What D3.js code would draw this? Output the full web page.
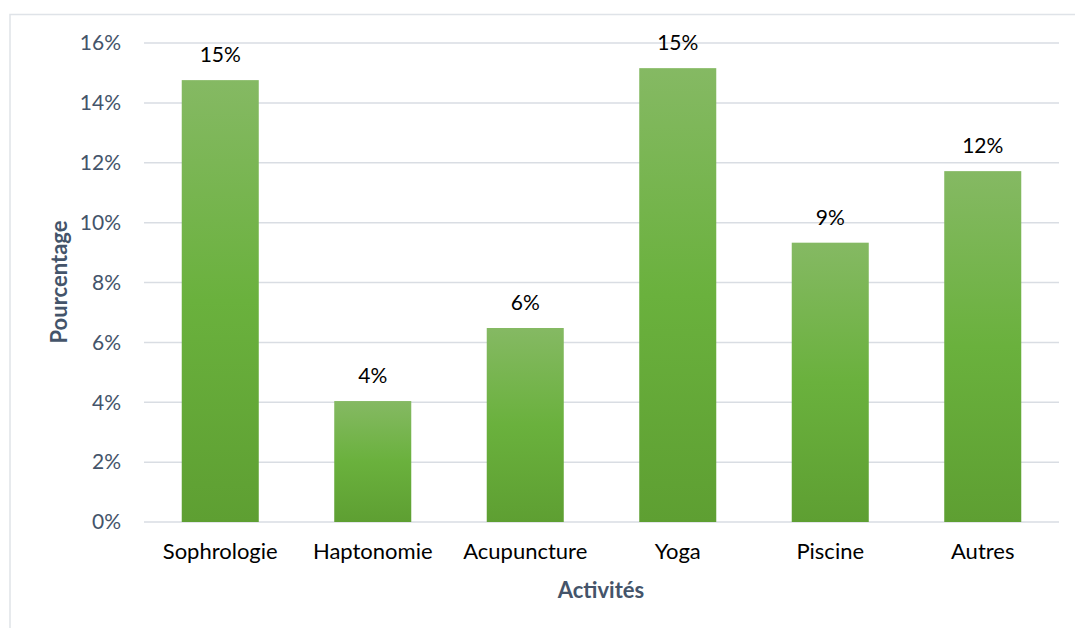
<!DOCTYPE html>
<html><head><meta charset="utf-8">
<script src="https://cdn.jsdelivr.net/npm/d3@7/dist/d3.min.js"></script>
<style>body{margin:0;background:#fff;} svg{display:block;}</style>
</head><body>
<svg id="c" width="1075" height="628"></svg>
<script>
const categories = ["Sophrologie","Haptonomie","Acupuncture","Yoga","Piscine","Autres"];
const values = [0.1476, 0.0404, 0.0648, 0.1516, 0.0933, 0.1172];
const labels = ["15%","4%","6%","15%","9%","12%"];
const yTicks = [0,0.02,0.04,0.06,0.08,0.10,0.12,0.14,0.16];

const svg = d3.select("#c");
const font = "Lato, 'Open Sans', sans-serif";
const L = 144, R = 1059, T = 43, B = 522;

svg.append("rect").attr("x",10).attr("y",14.5).attr("width",1100).attr("height",640)
  .attr("fill","#fff").attr("stroke","#dfe3e8").attr("stroke-width",1.5);

const defs = svg.append("defs");
const g = defs.append("linearGradient").attr("id","gr").attr("x1",0).attr("y1",0).attr("x2",0).attr("y2",1);
g.append("stop").attr("offset","0%").attr("stop-color","#85b963");
g.append("stop").attr("offset","50%").attr("stop-color","#6ab13d");
g.append("stop").attr("offset","100%").attr("stop-color","#5e9f32");

const x = d3.scaleBand().domain(categories).range([L,R]).paddingInner(0.495).paddingOuter(0.2475);
const y = d3.scaleLinear().domain([0,0.16]).range([B,T]);

svg.append("g").selectAll("line").data(yTicks).join("line")
  .attr("x1",L).attr("x2",R).attr("y1",d=>y(d)).attr("y2",d=>y(d))
  .attr("stroke","#d9dde3").attr("stroke-width",1.5);

svg.append("g").selectAll("text").data(yTicks).join("text")
  .attr("x",121).attr("y",d=>y(d)).attr("dy","0.35em").attr("text-anchor","end")
  .attr("font-family",font).attr("font-size",21).attr("fill","#44546a")
  .text(d=>d3.format(".0%")(d));

svg.append("g").selectAll("rect").data(values).join("rect")
  .attr("x",(d,i)=>x(categories[i])).attr("width",x.bandwidth())
  .attr("y",d=>y(d)).attr("height",d=>B-y(d)).attr("fill","url(#gr)");

svg.append("g").selectAll("text").data(values).join("text")
  .attr("x",(d,i)=>x(categories[i])+x.bandwidth()/2).attr("y",d=>y(d)-18)
  .attr("text-anchor","middle").attr("font-family",font).attr("font-size",21).attr("fill","#000")
  .text((d,i)=>labels[i]);

svg.append("g").selectAll("text").data(categories).join("text")
  .attr("x",d=>x(d)+x.bandwidth()/2).attr("y",559)
  .attr("text-anchor","middle").attr("font-family",font).attr("font-size",22).attr("fill","#000")
  .text(d=>d);

svg.append("text").attr("x",601).attr("y",598).attr("text-anchor","middle")
  .attr("font-family",font).attr("font-size",22).attr("font-weight","bold").attr("fill","#44546a")
  .text("Activités");

svg.append("text").attr("transform","translate(67,282) rotate(-90)").attr("text-anchor","middle")
  .attr("font-family",font).attr("font-size",22).attr("font-weight","bold").attr("fill","#44546a")
  .text("Pourcentage");
</script>
</body></html>
